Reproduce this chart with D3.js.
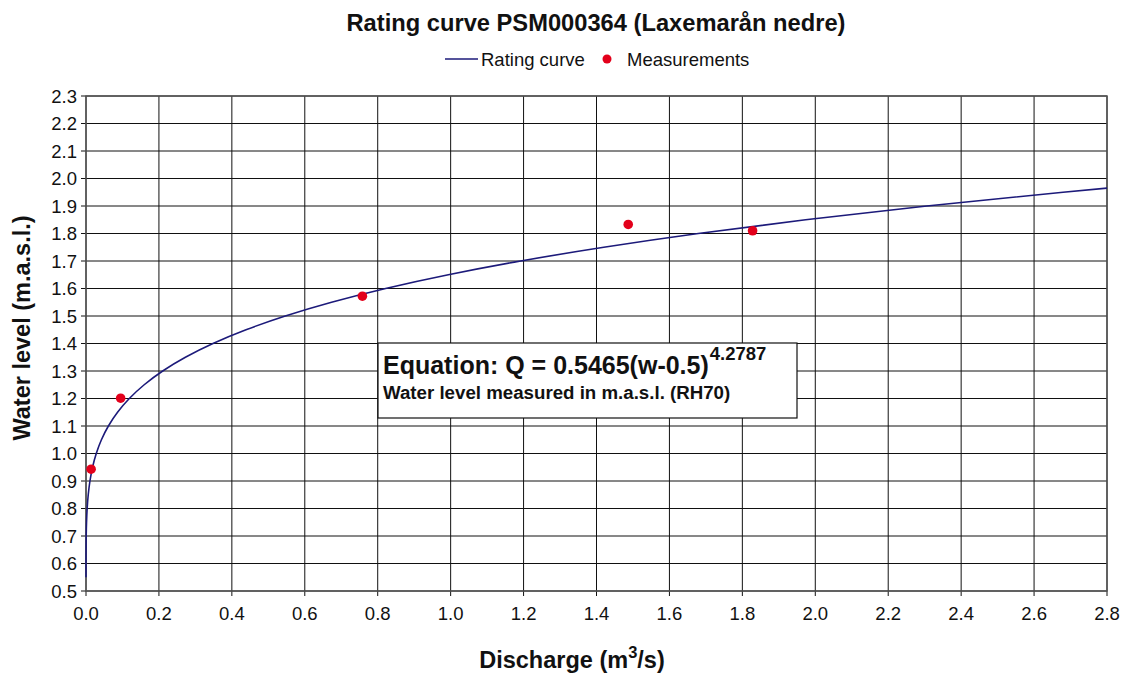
<!DOCTYPE html>
<html><head><meta charset="utf-8">
<script src="https://cdn.jsdelivr.net/npm/d3@7"></script>
<style>body{margin:0;background:#fff;} text{font-family:"Liberation Sans",Arial,sans-serif;}</style>
</head><body>
<svg id="c" width="1132" height="675"></svg>
<script>
// Rating curve sampled points (water level w, discharge Q)
const curveLevel = [0.55,0.6,0.65,0.7,0.75,0.8,0.85,0.9,0.95,1.0,1.05,1.1,1.15,1.2,1.25,1.3,1.35,1.4,1.45,1.5,1.55,1.6,1.65,1.7,1.75,1.8,1.85,1.9,1.95,1.965];
const curveQ = [0.0000015,0.000029,0.00018,0.00056,0.00145,0.00317,0.00612,0.01083,0.01794,0.02815,0.04231,0.06143,0.08652,0.1188,0.1596,0.2103,0.2726,0.3482,0.4388,0.5465,0.6734,0.8217,0.9937,1.1922,1.4199,1.6792,1.9735,2.3058,2.6795,2.8001];
// Measurements
const measQ = [0.014,0.095,0.758,1.487,1.828];
const measLevel = [0.943,1.201,1.572,1.833,1.810];
const xTicks = [0,0.2,0.4,0.6,0.8,1.0,1.2,1.4,1.6,1.8,2.0,2.2,2.4,2.6,2.8];
const yTicks = [0.5,0.6,0.7,0.8,0.9,1.0,1.1,1.2,1.3,1.4,1.5,1.6,1.7,1.8,1.9,2.0,2.1,2.2,2.3];

const svg = d3.select("#c");
const L=86,R=1107,T=96,B=591;
const x = d3.scaleLinear().domain([0,2.8]).range([L,R]);
const y = d3.scaleLinear().domain([0.5,2.3]).range([B,T]);

// grid
const g = svg.append("g");
g.selectAll("line.v").data(xTicks).enter().append("line")
  .attr("x1",d=>x(d)).attr("x2",d=>x(d)).attr("y1",T).attr("y2",B+5)
  .attr("stroke","#111").attr("stroke-width",1);
g.selectAll("line.h").data(yTicks).enter().append("line")
  .attr("x1",L-5).attr("x2",R).attr("y1",d=>y(d)).attr("y2",d=>y(d))
  .attr("stroke","#111").attr("stroke-width",1);
g.append("rect").attr("x",L).attr("y",T).attr("width",R-L).attr("height",B-T)
  .attr("fill","none").attr("stroke","#555").attr("stroke-width",1.5);

// tick labels
svg.append("g").selectAll("text").data(yTicks).enter().append("text")
  .attr("x",L-9).attr("y",d=>y(d)+6.5).attr("text-anchor","end")
  .attr("font-size",18.5).attr("fill","#111").text(d=>d.toFixed(1));
svg.append("g").selectAll("text").data(xTicks).enter().append("text")
  .attr("x",d=>x(d)).attr("y",620).attr("text-anchor","middle")
  .attr("font-size",18.5).attr("fill","#111").text(d=>d.toFixed(1));

// curve
const pts = curveLevel.map((w,i)=>[curveQ[i],w]);
svg.append("path").datum(pts)
  .attr("d",d3.line().x(d=>x(d[0])).y(d=>y(d[1])).curve(d3.curveMonotoneY))
  .attr("fill","none").attr("stroke","#1c1a7a").attr("stroke-width",1.6);

// points
svg.append("g").selectAll("circle").data(measQ).enter().append("circle")
  .attr("cx",d=>x(d)).attr("cy",(d,i)=>y(measLevel[i])).attr("r",4.8).attr("fill","#e3001b");

// annotation box
const bx=378,by=343,bw=419,bh=75;
svg.append("rect").attr("x",bx).attr("y",by).attr("width",bw).attr("height",bh)
  .attr("fill","#fff").attr("stroke","#111").attr("stroke-width",1.2);
const eq = svg.append("text").attr("x",bx+5).attr("y",by+31).attr("font-size",25).attr("font-weight","bold").attr("fill","#111");
eq.append("tspan").text("Equation: Q = 0.5465(w-0.5)");
eq.append("tspan").attr("dx",1).attr("dy",-14).attr("font-size",18.5).text("4.2787");
svg.append("text").attr("x",bx+5).attr("y",by+56).attr("font-size",18.7).attr("font-weight","bold").attr("fill","#111")
  .text("Water level measured in m.a.s.l. (RH70)");

// title
svg.append("text").attr("x",596).attr("y",31).attr("text-anchor","middle").attr("font-size",23.7)
  .attr("font-weight","bold").attr("fill","#111").text("Rating curve PSM000364 (Laxemarån nedre)");

// legend
svg.append("line").attr("x1",445).attr("x2",478).attr("y1",59).attr("y2",59).attr("stroke","#1c1a7a").attr("stroke-width",1.6);
svg.append("text").attr("x",481).attr("y",66).attr("font-size",18.5).attr("fill","#111").text("Rating curve");
svg.append("circle").attr("cx",607).attr("cy",59).attr("r",4.5).attr("fill","#e3001b");
svg.append("text").attr("x",627).attr("y",66).attr("font-size",18.5).attr("fill","#111").text("Measurements");

// axis titles
svg.append("text").attr("transform","translate(30,328) rotate(-90)").attr("text-anchor","middle")
  .attr("font-size",23.5).attr("font-weight","bold").attr("fill","#111").text("Water level (m.a.s.l.)");
const xt = svg.append("text").attr("x",572).attr("y",668).attr("text-anchor","middle")
  .attr("font-size",23.5).attr("font-weight","bold").attr("fill","#111");
xt.append("tspan").text("Discharge (m");
xt.append("tspan").attr("dy",-10).attr("font-size",16.5).text("3");
xt.append("tspan").attr("dy",10).text("/s)");
</script>
</body></html>
